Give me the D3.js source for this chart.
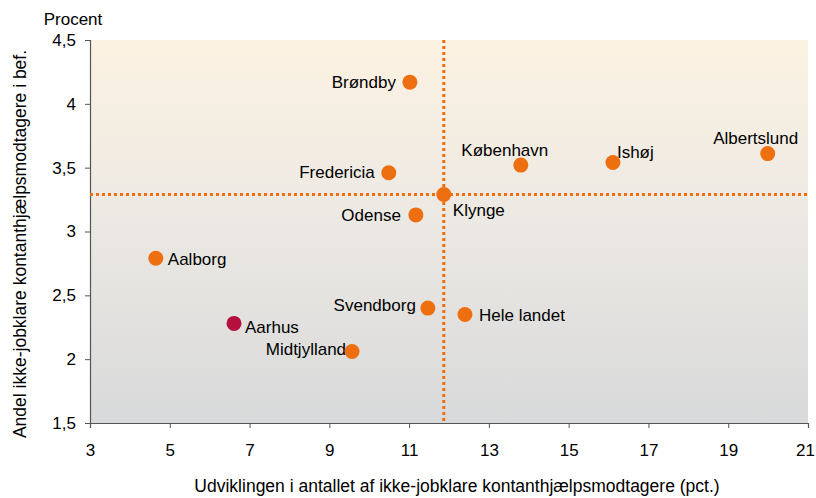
<!DOCTYPE html>
<html>
<head>
<meta charset="utf-8">
<script src="https://cdn.jsdelivr.net/npm/d3@7"></script>
<style>
  body { margin: 0; background: #fff; }
  svg { font-family: "Liberation Sans", Arial, sans-serif; }
</style>
</head>
<body>
<div id="chart"></div>
<script>
const names = ['Brøndby', 'København', 'Ishøj', 'Albertslund', 'Fredericia', 'Klynge',
    'Odense', 'Aalborg', 'Aarhus', 'Svendborg', 'Hele landet', 'Midtjylland'];
const xValues = [11.02, 13.80, 16.11, 19.99, 10.49, 11.87, 11.17, 4.65, 6.61, 11.47, 12.40, 9.57];
const yValues = [4.17, 3.52, 3.54, 3.61, 3.46, 3.29, 3.13, 2.79, 2.28, 2.40, 2.35, 2.06];
const xTicks = [3, 5, 7, 9, 11, 13, 15, 17, 19, 21];
const yTicks = [1.5, 2, 2.5, 3, 3.5, 4, 4.5];
const refX = 11.87;
const refY = 3.29;
const highlight = 'Aarhus';

// label placement: [dx, dy, anchor]
const labelPos = {
    'Brøndby': [-14, 6, 'end'],
    'København': [-16, -9, 'middle'],
    'Ishøj': [4, -5, 'start'],
    'Albertslund': [-12, -10, 'middle'],
    'Fredericia': [-14, 5, 'end'],
    'Klynge': [9, 22, 'start'],
    'Odense': [-15, 6, 'end'],
    'Aalborg': [12, 7, 'start'],
    'Aarhus': [11, 10, 'start'],
    'Svendborg': [-12, 3, 'end'],
    'Hele landet': [14, 7, 'start'],
    'Midtjylland': [-6, 3, 'end']
};

const width = 816, height = 498;
const margin = { top: 40, right: 8, bottom: 75, left: 90 };
const fs = '17px';

const svg = d3.select('#chart').append('svg')
    .attr('width', width)
    .attr('height', height);

const x = d3.scaleLinear().domain([3, 21]).range([margin.left, width - margin.right]);
const y = d3.scaleLinear().domain([1.5, 4.5]).range([height - margin.bottom, margin.top]);

const defs = svg.append('defs');
const grad = defs.append('linearGradient')
    .attr('id', 'bg')
    .attr('x1', 0).attr('y1', 0).attr('x2', 0).attr('y2', 1);
grad.append('stop').attr('offset', '0%').attr('stop-color', '#fcf2e2');
grad.append('stop').attr('offset', '50%').attr('stop-color', '#ebe8e3');
grad.append('stop').attr('offset', '100%').attr('stop-color', '#d8d9da');

svg.append('rect')
    .attr('x', x(3))
    .attr('y', y(4.5))
    .attr('width', x(21) - x(3))
    .attr('height', y(1.5) - y(4.5))
    .attr('fill', 'url(#bg)');

// axes
const xAxis = svg.append('g')
    .attr('transform', `translate(0,${y(1.5)})`)
    .call(d3.axisBottom(x).tickValues(xTicks).tickSize(5).tickPadding(16).tickFormat(d3.format('d')));

const yAxis = svg.append('g')
    .attr('transform', `translate(${x(3)},0)`)
    .call(d3.axisLeft(y).tickValues(yTicks).tickSize(5).tickPadding(9)
        .tickFormat(d => String(d).replace('.', ',')));

[xAxis, yAxis].forEach(a => {
    a.select('.domain').attr('stroke', '#555').attr('stroke-width', 1.2);
    a.selectAll('.tick line').attr('stroke', '#555');
    a.selectAll('.tick text').attr('fill', '#000').style('font-size', fs);
});

// keep the last x label inside the page
xAxis.selectAll('.tick text').filter(d => d === 21).attr('text-anchor', 'end').attr('dx', '0.38em');

// reference lines
const refStyle = sel => sel
    .attr('stroke', '#ee6f10')
    .attr('stroke-width', 3)
    .attr('stroke-dasharray', '3 3');

svg.append('line')
    .attr('x1', x(3)).attr('x2', x(21))
    .attr('y1', y(refY)).attr('y2', y(refY))
    .call(refStyle);

svg.append('line')
    .attr('x1', x(refX)).attr('x2', x(refX))
    .attr('y1', y(4.5)).attr('y2', y(1.5))
    .call(refStyle);

// points
const data = names.map((n, i) => ({ name: n, x: xValues[i], y: yValues[i] }));

svg.append('g').selectAll('text')
    .data(data)
    .enter().append('text')
    .attr('x', d => x(d.x) + labelPos[d.name][0])
    .attr('y', d => y(d.y) + labelPos[d.name][1])
    .attr('text-anchor', d => labelPos[d.name][2])
    .style('font-size', fs)
    .attr('fill', '#000')
    .text(d => d.name);

svg.append('g').selectAll('circle')
    .data(data)
    .enter().append('circle')
    .attr('cx', d => x(d.x))
    .attr('cy', d => y(d.y))
    .attr('r', 7.5)
    .attr('fill', d => d.name === highlight ? '#b50f3e' : '#ee6f10');

// titles
svg.append('text')
    .attr('x', 73).attr('y', 25)
    .attr('text-anchor', 'middle')
    .style('font-size', fs)
    .text('Procent');

svg.append('text')
    .attr('x', 457)
    .attr('y', 492)
    .attr('text-anchor', 'middle')
    .style('font-size', '17.5px')
    .text('Udviklingen i antallet af ikke-jobklare kontanthjælpsmodtagere (pct.)');

svg.append('text')
    .attr('transform', `translate(26,244) rotate(-90)`)
    .attr('text-anchor', 'middle')
    .style('font-size', '17.5px')
    .text('Andel ikke-jobklare kontanthjælpsmodtagere i bef.');
</script>
</body>
</html>
